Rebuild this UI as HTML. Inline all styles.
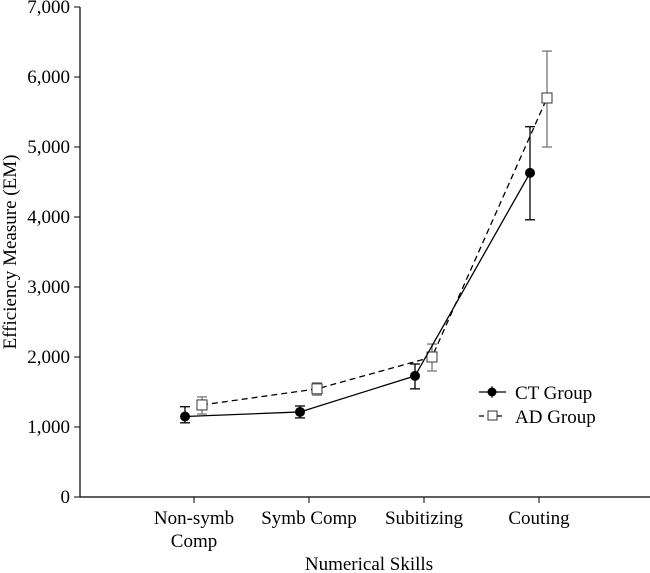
<!DOCTYPE html>
<html><head><meta charset="utf-8"><style>
body{margin:0;background:#fff;}
svg{display:block;font-family:"Liberation Serif",serif;}
</style></head><body>
<svg id="chart" width="650" height="573"></svg>
<script>
const categories=["Non-symb|Comp","Symb Comp","Subitizing","Couting"];
const ctValues=[1150,1215,1730,4630];
const ctErrHi=[1290,1300,1900,5290];
const ctErrLo=[1060,1130,1545,3960];
const adValues=[1315,1545,2000,5700];
const adErrHi=[1430,1630,2185,6370];
const adErrLo=[1185,1455,1800,5000];
const yTicks=[0,1000,2000,3000,4000,5000,6000,7000];
const yTickLabels=["0","1,000","2,000","3,000","4,000","5,000","6,000","7,000"];

const NS="http://www.w3.org/2000/svg";
const svg=document.getElementById('chart');
const y=v=>497-v*0.07;
const xc=i=>194+i*115;
function mk(t,a,p){const e=document.createElementNS(NS,t);for(const k in a)e.setAttribute(k,a[k]);(p||svg).appendChild(e);return e;}

let e=mk('line',{x1:80,y1:7,x2:80,y2:497,stroke:'#000','stroke-width':1.2});


e=mk('line',{x1:80,y1:497,x2:650,y2:497,stroke:'#000','stroke-width':1.2});


yTicks.forEach((v,i)=>{
  let t=mk('line',{x1:74,y1:y(v),x2:80,y2:y(v),stroke:'#000'});
  
  
  let l=mk('text',{x:70,y:y(v)+6,'text-anchor':'end','font-size':19});
  l.textContent=yTickLabels[i];
  
  
});
categories.forEach((c,i)=>{
  let t=mk('line',{x1:xc(i),y1:497,x2:xc(i),y2:503,stroke:'#000'});
  
  
  c.split('|').forEach((s,j)=>{
    let l=mk('text',{x:xc(i),y:524+j*23,'text-anchor':'middle','font-size':19});
    l.textContent=s;
    
    
  });
});
let yt=mk('text',{x:0,y:0,'text-anchor':'middle','font-size':19,transform:'translate(16,252) rotate(-90)'});
yt.textContent='Efficiency Measure (EM)';


let xt=mk('text',{x:369,y:570,'text-anchor':'middle','font-size':19});
xt.textContent='Numerical Skills';



function series(vals,hi,lo,off,dash,marker,name,errColor){
  const pts=vals.map((v,i)=>(xc(i)+off)+','+y(v)).join(' ');
  let pl=mk('polyline',{points:pts,fill:'none',stroke:'#000','stroke-width':1.3,'stroke-dasharray':dash});
  
  
  vals.forEach((v,i)=>{
    const x=xc(i)+off;
    let g=mk('g',{stroke:errColor,'stroke-width':1.3});
    
    
    mk('line',{x1:x,y1:y(hi[i]),x2:x,y2:y(lo[i])},g);
    mk('line',{x1:x-5,y1:y(hi[i]),x2:x+5,y2:y(hi[i])},g);
    mk('line',{x1:x-5,y1:y(lo[i]),x2:x+5,y2:y(lo[i])},g);
    let m;
    if(marker==='circle') m=mk('circle',{cx:x,cy:y(v),r:5,fill:'#000'});
    else m=mk('rect',{x:x-5,y:y(v)-5,width:10,height:10,fill:'#fff',stroke:'#333','stroke-width':1});
    
    
  });
}
series(adValues,adErrHi,adErrLo,8,'6,4','square','ad-group','#777');
series(ctValues,ctErrHi,ctErrLo,-9,'','circle','ct-group','#000');

let lg=mk('g',{});


let l1=mk('g',{},lg);


mk('line',{x1:479,y1:392,x2:506,y2:392,stroke:'#000','stroke-width':1.3},l1);
mk('circle',{cx:492,cy:392,r:4.5,fill:'#000'},l1);
mk('line',{x1:492,y1:386,x2:492,y2:398,stroke:'#000'},l1);
let t1=mk('text',{x:515,y:399,'font-size':19},l1);t1.textContent='CT Group';
let l2=mk('g',{},lg);


mk('line',{x1:479,y1:416,x2:506,y2:416,stroke:'#000','stroke-width':1.3,'stroke-dasharray':'5,13'},l2);
mk('rect',{x:488,y:411,width:9,height:9,fill:'#fff',stroke:'#333'},l2);
let t2=mk('text',{x:515,y:423,'font-size':19},l2);t2.textContent='AD Group';
</script>
</body></html>
